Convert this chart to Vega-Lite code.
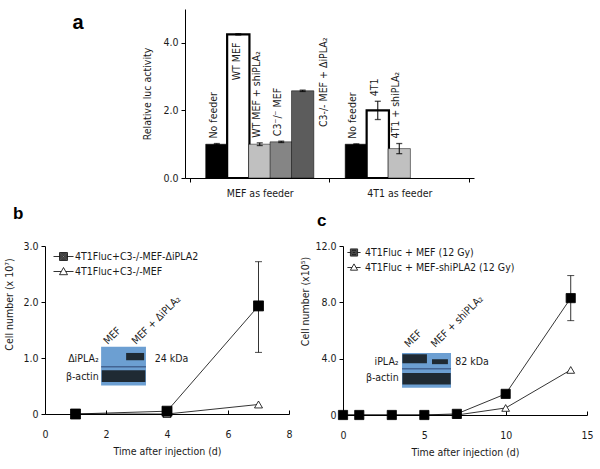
{
  "$schema": "https://vega.github.io/schema/vega-lite/v6.json",
  "padding": {"left": 4, "top": 9, "right": 0, "bottom": 0},
  "config": {
    "view": {"stroke": null},
    "font": "DejaVu Sans Condensed",
    "axis": {"grid": false, "domainColor": "#000", "tickColor": "#000", "labelColor": "#1a1a1a", "titleColor": "#1a1a1a", "labelFont": "DejaVu Sans Condensed", "titleFont": "DejaVu Sans Condensed", "labelFontSize": 10.5, "titleFontSize": 10.5, "titleFontWeight": "normal", "tickSize": 4, "labelPadding": 3, "domainWidth": 1, "tickWidth": 1, "labelOverlap": false, "labelSeparation": -200},
    "legend": {"labelColor": "#1a1a1a", "labelFont": "DejaVu Sans Condensed", "labelFontSize": 10.5},
    "text": {"font": "DejaVu Sans Condensed", "fontSize": 10.5, "color": "#1a1a1a"}
  },
  "datasets": {
    "bars": [
      {"cond": "No feeder", "label": "No feeder", "pos": 1.25, "value": 1.0, "lo": 0.98, "hi": 1.02},
      {"cond": "WT MEF", "label": "WT MEF", "pos": 2.25, "value": 4.25, "lo": 4.23, "hi": 4.27},
      {"cond": "WT MEF + shiPLA2", "label": "WT MEF + shiPLA₂", "pos": 3.25, "value": 1.0, "lo": 0.96, "hi": 1.04},
      {"cond": "C3-/- MEF", "label": "C3⁻/⁻ MEF", "pos": 4.25, "value": 1.07, "lo": 1.05, "hi": 1.09},
      {"cond": "C3-/- MEF + ΔiPLA2", "label": "C3-/- MEF + ΔiPLA₂", "pos": 5.25, "value": 2.58, "lo": 2.56, "hi": 2.6},
      {"cond": "No feeder (4T1)", "label": "No feeder", "pos": 7.75, "value": 1.0, "lo": 0.99, "hi": 1.01},
      {"cond": "4T1", "label": "4T1", "pos": 8.75, "value": 2.0, "lo": 1.73, "hi": 2.27},
      {"cond": "4T1 + shiPLA2", "label": "4T1 + shiPLA₂", "pos": 9.75, "value": 0.87, "lo": 0.72, "hi": 1.02}
    ],
    "blotB": [
      {"part": "bg", "x": 1.84, "x2": 3.31, "y": 0.51, "y2": 1.2},
      {"part": "band", "x": 2.66, "x2": 3.25, "y": 0.96, "y2": 1.09},
      {"part": "band", "x": 1.86, "x2": 3.29, "y": 0.57, "y2": 0.78},
      {"part": "line", "x": 1.84, "x2": 3.31, "y": 0.835, "y2": 0.85}
    ],
    "blotBrow": [{"t": "ΔiPLA₂", "x": 1.76, "y": 0.98}, {"t": "β-actin", "x": 1.76, "y": 0.66}],
    "blotBsize": [{"t": "24 kDa", "x": 3.6, "y": 0.98}],
    "blotBlane": [{"t": "MEF", "x": 2.06, "y": 1.23}, {"t": "MEF + ΔiPLA₂", "x": 2.98, "y": 1.23}],
    "blotC": [
      {"part": "bg", "x": 3.63, "x2": 6.64, "y": 1.93, "y2": 4.41},
      {"part": "band", "x": 3.65, "x2": 5.16, "y": 3.68, "y2": 4.31},
      {"part": "band", "x": 5.47, "x2": 6.45, "y": 3.61, "y2": 3.96},
      {"part": "band", "x": 3.65, "x2": 6.62, "y": 2.17, "y2": 2.99},
      {"part": "line", "x": 3.63, "x2": 6.64, "y": 3.24, "y2": 3.3}
    ],
    "blotCrow": [{"t": "iPLA₂", "x": 3.42, "y": 3.75}, {"t": "β-actin", "x": 3.42, "y": 2.6}],
    "blotCsize": [{"t": "82 kDa", "x": 6.9, "y": 3.75}],
    "blotClane": [{"t": "MEF", "x": 4.04, "y": 4.76}, {"t": "MEF + shiPLA₂", "x": 5.67, "y": 4.76}],
    "seriesB": [
      {"series": "4T1Fluc+C3-/-MEF", "day": 1, "value": 0},
      {"series": "4T1Fluc+C3-/-MEF", "day": 4, "value": 0.0},
      {"series": "4T1Fluc+C3-/-MEF", "day": 7, "value": 0.17},
      {"series": "4T1Fluc+C3-/-MEF-ΔiPLA2", "day": 1, "value": 0},
      {"series": "4T1Fluc+C3-/-MEF-ΔiPLA2", "day": 4, "value": 0.05},
      {"series": "4T1Fluc+C3-/-MEF-ΔiPLA2", "day": 7, "value": 1.93, "lo": 1.1, "hi": 2.72}
    ],
    "seriesC": [
      {"series": "4T1Fluc + MEF-shiPLA2 (12 Gy)", "day": 0, "value": 0},
      {"series": "4T1Fluc + MEF-shiPLA2 (12 Gy)", "day": 1, "value": 0},
      {"series": "4T1Fluc + MEF-shiPLA2 (12 Gy)", "day": 3, "value": 0},
      {"series": "4T1Fluc + MEF-shiPLA2 (12 Gy)", "day": 5, "value": 0},
      {"series": "4T1Fluc + MEF-shiPLA2 (12 Gy)", "day": 7, "value": 0},
      {"series": "4T1Fluc + MEF-shiPLA2 (12 Gy)", "day": 10, "value": 0.5},
      {"series": "4T1Fluc + MEF-shiPLA2 (12 Gy)", "day": 14, "value": 3.2},
      {"series": "4T1Fluc + MEF (12 Gy)", "day": 0, "value": 0},
      {"series": "4T1Fluc + MEF (12 Gy)", "day": 1, "value": 0},
      {"series": "4T1Fluc + MEF (12 Gy)", "day": 3, "value": 0},
      {"series": "4T1Fluc + MEF (12 Gy)", "day": 5, "value": 0},
      {"series": "4T1Fluc + MEF (12 Gy)", "day": 7, "value": 0.08},
      {"series": "4T1Fluc + MEF (12 Gy)", "day": 10, "value": 1.5},
      {"series": "4T1Fluc + MEF (12 Gy)", "day": 14, "value": 8.3, "lo": 6.7, "hi": 9.9}
    ]
  },
  "spacing": 6,
  "vconcat": [
    {
      "spacing": 37,
      "hconcat": [
        {
          "width": 60, "height": 27,
          "data": {"values": [{}]},
          "mark": {"type": "text", "text": "a", "font": "Liberation Sans", "fontSize": 20, "fontWeight": "bold", "color": "#000", "dx": 3, "baseline": "middle"},
          "encoding": {}
        },
        {
          "width": 289, "height": 169,
          "data": {"name": "bars"},
          "layer": [
            {
              "mark": {"type": "bar", "width": 22.3, "stroke": "#000"},
              "encoding": {
                "x": {"field": "pos", "type": "quantitative", "scale": {"domain": [0, 13], "nice": false, "zero": false},
                  "axis": {"values": [0, 3.25, 6.5, 9.75, 13], "title": null, "labelPadding": 6, "labelFlush": false, "labelOverlap": false,
                    "labelExpr": "datum.value == 3.25 ? 'MEF as feeder' : (datum.value == 9.75 ? '4T1 as feeder' : '')",
                    "tickOpacity": {"condition": {"test": "datum.value == 3.25 || datum.value == 9.75", "value": 0}, "value": 1}}},
                "y": {"field": "value", "type": "quantitative", "stack": null, "scale": {"domain": [0, 5], "nice": false},
                  "axis": {"values": [0, 1, 2, 3, 4, 5], "labelExpr": "format(datum.value, '.1f')", "title": "Relative luc activity", "titlePadding": 10, "labelOverlap": false, "labelSeparation": -200}},
                "fill": {"field": "cond", "type": "nominal", "legend": null,
                  "scale": {"domain": ["No feeder", "WT MEF", "WT MEF + shiPLA2", "C3-/- MEF", "C3-/- MEF + ΔiPLA2", "No feeder (4T1)", "4T1", "4T1 + shiPLA2"],
                    "range": ["#000000", "#ffffff", "#c0c0c0", "#858585", "#5c5c5c", "#000000", "#ffffff", "#c0c0c0"]}},
                "strokeWidth": {"condition": {"test": "datum.cond === 'WT MEF' || datum.cond === '4T1'", "value": 2.2}, "value": 0.5}
              }
            },
            {
              "mark": {"type": "rule", "color": "#000", "strokeWidth": 1},
              "encoding": {"x": {"field": "pos", "type": "quantitative"},
                "y": {"field": "lo", "type": "quantitative", "axis": {"values": [0, 1, 2, 3, 4, 5], "labelExpr": "format(datum.value, '.1f')", "title": "Relative luc activity", "titlePadding": 10, "labelOverlap": false, "labelSeparation": -200}},
                "y2": {"field": "hi"}}
            },
            {
              "mark": {"type": "tick", "orient": "horizontal", "color": "#000", "size": 6, "thickness": 1.3},
              "encoding": {"x": {"field": "pos", "type": "quantitative"}, "y": {"field": "lo", "type": "quantitative"}}
            },
            {
              "mark": {"type": "tick", "orient": "horizontal", "color": "#000", "size": 6, "thickness": 1.3},
              "encoding": {"x": {"field": "pos", "type": "quantitative"}, "y": {"field": "hi", "type": "quantitative"}}
            },
            {
              "transform": [{"filter": "datum.cond !== 'WT MEF' && datum.cond !== 'C3-/- MEF + ΔiPLA2'"}],
              "mark": {"type": "text", "angle": 270, "align": "left", "baseline": "middle", "dx": 5, "dy": -3},
              "encoding": {"x": {"field": "pos", "type": "quantitative"}, "y": {"field": "hi", "type": "quantitative"}, "text": {"field": "label"}}
            },
            {
              "transform": [{"filter": "datum.cond === 'C3-/- MEF + ΔiPLA2'"}],
              "mark": {"type": "text", "angle": 270, "align": "left", "baseline": "middle", "dx": -37, "dy": 21},
              "encoding": {"x": {"field": "pos", "type": "quantitative"}, "y": {"field": "hi", "type": "quantitative"}, "text": {"field": "label"}}
            },
            {
              "transform": [{"filter": "datum.cond === 'WT MEF'"}],
              "mark": {"type": "text", "angle": 270, "align": "right", "baseline": "middle", "dx": -9, "dy": -1},
              "encoding": {"x": {"field": "pos", "type": "quantitative"}, "y": {"field": "hi", "type": "quantitative"}, "text": {"field": "label"}}
            }
          ]
        }
      ]
    },
    {
      "spacing": 7,
      "resolve": {"scale": {"shape": "independent", "fill": "independent", "x": "independent", "y": "independent"}, "legend": {"shape": "independent"}},
      "hconcat": [
        {
          "width": 244, "height": 168,
          "title": {"text": "b", "anchor": "start", "frame": "bounds", "font": "Liberation Sans", "fontSize": 17, "fontWeight": "bold", "color": "#000", "offset": 18, "dx": 8},
          "resolve": {"scale": {"fill": "independent"}},
          "layer": [
            {
              "data": {"name": "blotB"},
              "mark": {"type": "rect"},
              "encoding": {
                "x": {"field": "x", "type": "quantitative", "scale": {"domain": [0, 8], "nice": false},
                  "axis": {"values": [0, 2, 4, 6, 8], "title": "Time after injection  (d)", "tickSize": -4, "labelPadding": 19, "titlePadding": 7, "labelFlush": false}},
                "x2": {"field": "x2"},
                "y": {"field": "y", "type": "quantitative", "scale": {"domain": [0, 3], "nice": false},
                  "axis": {"values": [0, 0.5, 1, 1.5, 2, 2.5, 3], "labelOverlap": false, "labelSeparation": -200, "labelExpr": "datum.value === 0 ? '0' : format(datum.value, '.1f')", "title": "Cell number (x 10⁷)", "titlePadding": 8, "titleY": 58}},
                "y2": {"field": "y2"},
                "fill": {"field": "part", "type": "nominal", "legend": null, "scale": {"domain": ["bg", "band", "line"], "range": ["#6c9fd2", "#1f2a33", "#1a2b55"]}}
              }
            },
            {
              "data": {"name": "blotBrow"},
              "mark": {"type": "text", "align": "right", "baseline": "middle"},
              "encoding": {"x": {"field": "x", "type": "quantitative"}, "y": {"field": "y", "type": "quantitative"}, "text": {"field": "t"}}
            },
            {
              "data": {"name": "blotBsize"},
              "mark": {"type": "text", "align": "left", "baseline": "middle"},
              "encoding": {"x": {"field": "x", "type": "quantitative"}, "y": {"field": "y", "type": "quantitative"}, "text": {"field": "t"}}
            },
            {
              "data": {"name": "blotBlane"},
              "mark": {"type": "text", "align": "left", "baseline": "alphabetic", "angle": 315},
              "encoding": {"x": {"field": "x", "type": "quantitative"}, "y": {"field": "y", "type": "quantitative"}, "text": {"field": "t"}}
            },
            {
              "data": {"name": "seriesB"},
              "mark": {"type": "line", "color": "#000", "strokeWidth": 0.8},
              "encoding": {"x": {"field": "day", "type": "quantitative"}, "y": {"field": "value", "type": "quantitative"}, "detail": {"field": "series"}}
            },
            {
              "data": {"name": "seriesB"},
              "transform": [{"filter": "datum.lo != null"}],
              "mark": {"type": "rule", "color": "#000", "strokeWidth": 0.8},
              "encoding": {"x": {"field": "day", "type": "quantitative"}, "y": {"field": "lo", "type": "quantitative"}, "y2": {"field": "hi"}}
            },
            {
              "data": {"name": "seriesB"},
              "transform": [{"filter": "datum.lo != null"}],
              "mark": {"type": "tick", "orient": "horizontal", "color": "#000", "size": 7, "thickness": 1},
              "encoding": {"x": {"field": "day", "type": "quantitative"}, "y": {"field": "lo", "type": "quantitative"}}
            },
            {
              "data": {"name": "seriesB"},
              "transform": [{"filter": "datum.lo != null"}],
              "mark": {"type": "tick", "orient": "horizontal", "color": "#000", "size": 7, "thickness": 1},
              "encoding": {"x": {"field": "day", "type": "quantitative"}, "y": {"field": "hi", "type": "quantitative"}}
            },
            {
              "data": {"name": "seriesB"},
              "transform": [{"filter": "datum.series === '4T1Fluc+C3-/-MEF'"}],
              "mark": {"type": "point", "shape": "triangle-up", "filled": true, "fill": "#ffffff", "stroke": "#000", "strokeWidth": 0.8, "size": 64, "opacity": 1},
              "encoding": {"x": {"field": "day", "type": "quantitative"}, "y": {"field": "value", "type": "quantitative"}}
            },
            {
              "data": {"name": "seriesB"},
              "transform": [{"filter": "datum.series === '4T1Fluc+C3-/-MEF-ΔiPLA2'"}],
              "mark": {"type": "point", "shape": "square", "filled": true, "fill": "#000000", "stroke": "#000", "strokeWidth": 0.8, "size": 100, "opacity": 1},
              "encoding": {"x": {"field": "day", "type": "quantitative"}, "y": {"field": "value", "type": "quantitative"}}
            },
            {
              "data": {"name": "seriesB"},
              "mark": {"type": "point", "filled": false, "color": "#000", "opacity": 0},
              "encoding": {
                "x": {"field": "day", "type": "quantitative"},
                "y": {"field": "value", "type": "quantitative"},
                "shape": {"field": "series", "type": "nominal", "scale": {"domain": ["4T1Fluc+C3-/-MEF-ΔiPLA2", "4T1Fluc+C3-/-MEF"], "range": ["M-1.25,0H-0.5M0.5,0H1.25M-0.5,-0.5H0.5V0.5H-0.5ZM-0.4,-0.4H0.4V0.4H-0.4ZM-0.3,-0.3H0.3V0.3H-0.3ZM-0.2,-0.2H0.2V0.2H-0.2ZM-0.1,-0.1H0.1V0.1H-0.1Z", "M-1.25,0H-0.3M0.3,0H1.25M0,-0.5L0.5,0.4H-0.5Z"]},
                  "legend": {"title": null, "orient": "none", "legendX": 10, "legendY": 2, "symbolSize": 256, "symbolStrokeColor": "#000", "symbolStrokeWidth": 0.8, "symbolOpacity": 1, "labelOffset": 3, "rowPadding": 0, "padding": 0, "labelLimit": 300}}
              }
            }
          ]
        },
        {
          "width": 244, "height": 169,
          "title": {"text": "c", "anchor": "start", "frame": "bounds", "font": "Liberation Sans", "fontSize": 17, "fontWeight": "bold", "color": "#000", "offset": 18, "dx": 16, "dy": 7},
          "resolve": {"scale": {"fill": "independent"}},
          "layer": [
            {
              "data": {"name": "blotC"},
              "mark": {"type": "rect"},
              "encoding": {
                "x": {"field": "x", "type": "quantitative", "scale": {"domain": [0, 15], "nice": false},
                  "axis": {"values": [0, 5, 10, 15], "title": "Time after injection (d)", "tickSize": -4, "labelPadding": 19, "titlePadding": 7, "labelFlush": false}},
                "x2": {"field": "x2"},
                "y": {"field": "y", "type": "quantitative", "scale": {"domain": [0, 12], "nice": false},
                  "axis": {"values": [0, 2, 4, 6, 8, 10, 12], "labelOverlap": false, "labelSeparation": -200, "labelExpr": "datum.value === 0 ? '0' : format(datum.value, '.1f')", "title": "Cell number (x10⁵)", "titlePadding": 4, "titleY": 55}},
                "y2": {"field": "y2"},
                "fill": {"field": "part", "type": "nominal", "legend": null, "scale": {"domain": ["bg", "band", "line"], "range": ["#6c9fd2", "#1f2a33", "#1a2b55"]}}
              }
            },
            {
              "data": {"name": "blotCrow"},
              "mark": {"type": "text", "align": "right", "baseline": "middle"},
              "encoding": {"x": {"field": "x", "type": "quantitative"}, "y": {"field": "y", "type": "quantitative"}, "text": {"field": "t"}}
            },
            {
              "data": {"name": "blotCsize"},
              "mark": {"type": "text", "align": "left", "baseline": "middle"},
              "encoding": {"x": {"field": "x", "type": "quantitative"}, "y": {"field": "y", "type": "quantitative"}, "text": {"field": "t"}}
            },
            {
              "data": {"name": "blotClane"},
              "mark": {"type": "text", "align": "left", "baseline": "alphabetic", "angle": 315},
              "encoding": {"x": {"field": "x", "type": "quantitative"}, "y": {"field": "y", "type": "quantitative"}, "text": {"field": "t"}}
            },
            {
              "data": {"name": "seriesC"},
              "mark": {"type": "line", "color": "#000", "strokeWidth": 0.8},
              "encoding": {"x": {"field": "day", "type": "quantitative"}, "y": {"field": "value", "type": "quantitative"}, "detail": {"field": "series"}}
            },
            {
              "data": {"name": "seriesC"},
              "transform": [{"filter": "datum.lo != null"}],
              "mark": {"type": "rule", "color": "#000", "strokeWidth": 0.8},
              "encoding": {"x": {"field": "day", "type": "quantitative"}, "y": {"field": "lo", "type": "quantitative"}, "y2": {"field": "hi"}}
            },
            {
              "data": {"name": "seriesC"},
              "transform": [{"filter": "datum.lo != null"}],
              "mark": {"type": "tick", "orient": "horizontal", "color": "#000", "size": 7, "thickness": 1},
              "encoding": {"x": {"field": "day", "type": "quantitative"}, "y": {"field": "lo", "type": "quantitative"}}
            },
            {
              "data": {"name": "seriesC"},
              "transform": [{"filter": "datum.lo != null"}],
              "mark": {"type": "tick", "orient": "horizontal", "color": "#000", "size": 7, "thickness": 1},
              "encoding": {"x": {"field": "day", "type": "quantitative"}, "y": {"field": "hi", "type": "quantitative"}}
            },
            {
              "data": {"name": "seriesC"},
              "transform": [{"filter": "datum.series === '4T1Fluc + MEF-shiPLA2 (12 Gy)'"}],
              "mark": {"type": "point", "shape": "triangle-up", "filled": true, "fill": "#ffffff", "stroke": "#000", "strokeWidth": 0.8, "size": 60, "opacity": 1},
              "encoding": {"x": {"field": "day", "type": "quantitative"}, "y": {"field": "value", "type": "quantitative"}}
            },
            {
              "data": {"name": "seriesC"},
              "transform": [{"filter": "datum.series === '4T1Fluc + MEF (12 Gy)'"}],
              "mark": {"type": "point", "shape": "square", "filled": true, "fill": "#000000", "stroke": "#000", "strokeWidth": 0.8, "size": 85, "opacity": 1},
              "encoding": {"x": {"field": "day", "type": "quantitative"}, "y": {"field": "value", "type": "quantitative"}}
            },
            {
              "data": {"name": "seriesC"},
              "mark": {"type": "point", "filled": false, "color": "#000", "opacity": 0},
              "encoding": {
                "x": {"field": "day", "type": "quantitative"},
                "y": {"field": "value", "type": "quantitative"},
                "shape": {"field": "series", "type": "nominal", "scale": {"domain": ["4T1Fluc + MEF (12 Gy)", "4T1Fluc + MEF-shiPLA2 (12 Gy)"], "range": ["M-1.1,0H-0.6M0.6,0H1.1M-0.6,-0.6H0.6V0.6H-0.6ZM-0.47,-0.47H0.47V0.47H-0.47ZM-0.34,-0.34H0.34V0.34H-0.34ZM-0.21,-0.21H0.21V0.21H-0.21ZM-0.08,-0.08H0.08V0.08H-0.08Z", "M-1.1,0H-0.35M0.35,0H1.1M0,-0.6L0.6,0.45H-0.6Z"]},
                  "legend": {"title": null, "orient": "none", "legendX": 4.5, "legendY": 0, "symbolSize": 144, "symbolStrokeColor": "#000", "symbolStrokeWidth": 0.8, "symbolOpacity": 1, "labelOffset": 4.5, "rowPadding": 3, "padding": 0, "labelLimit": 300}}
              }
            }
          ]
        }
      ]
    }
  ]
}
